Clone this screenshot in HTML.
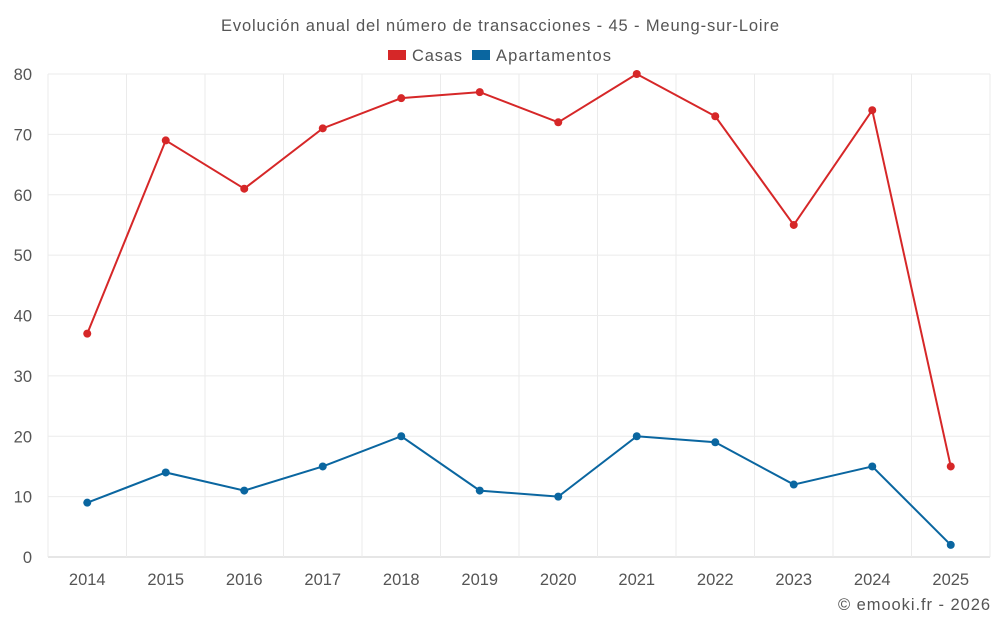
<!DOCTYPE html>
<html><head><meta charset="utf-8"><style>
body{margin:0;background:#fff;font-family:"Liberation Sans",sans-serif;}
svg text{font-family:"Liberation Sans",sans-serif;fill:#555;}
</style></head><body>
<svg id="chart" width="1000" height="625">
<text x="221" y="31" font-size="16.5" textLength="558" lengthAdjust="spacing">Evolución anual del número de transacciones - 45 - Meung-sur-Loire</text>
<g>
<g><rect x="388" y="50" width="18" height="10" fill="#d62728"/><text x="412" y="61" font-size="16.5" textLength="50" lengthAdjust="spacing">Casas</text></g>
<g><rect x="472" y="50" width="18" height="10" fill="#0a66a0"/><text x="496" y="61" font-size="16.5" textLength="115" lengthAdjust="spacing">Apartamentos</text></g>
</g>
<g id="grid"></g>
<g id="axes"></g>
<g id="series"></g>
<text x="838" y="610" font-size="16.5" textLength="152" lengthAdjust="spacing">© emooki.fr - 2026</text>
</svg>
<script>
const categories=["2014","2015","2016","2017","2018","2019","2020","2021","2022","2023","2024","2025"];
const casas=[37,69,61,71,76,77,72,80,73,55,74,15];
const apartamentos=[9,14,11,15,20,11,10,20,19,12,15,2];
const yTicks=[0,10,20,30,40,50,60,70,80];
const NS="http://www.w3.org/2000/svg";
const L=48,R=990,T=74,B=557,yMax=80;
const bw=(R-L)/categories.length;
const x=i=>L+bw*(i+0.5);
const y=v=>B-(v/yMax)*(B-T);
function mk(tag,attrs,parent){const e=document.createElementNS(NS,tag);for(const k in attrs)e.setAttribute(k,attrs[k]);parent.appendChild(e);return e;}
const grid=document.getElementById('grid'),axes=document.getElementById('axes'),series=document.getElementById('series');
yTicks.forEach(t=>{
 const l=mk('line',{x1:L,x2:R,y1:y(t),y2:y(t),stroke:t===0?'#ccc':'#ebebeb','stroke-width':1},grid);
 
 
 const tx=mk('text',{x:L-16,y:y(t)+6,'text-anchor':'end','font-size':16.5},axes);
 tx.textContent=t;
 
 
});
for(let i=0;i<=categories.length;i++){
 const l=mk('line',{x1:L+bw*i,x2:L+bw*i,y1:T,y2:B,stroke:'#ebebeb','stroke-width':1},grid);
 
 
}
categories.forEach((c,i)=>{
 const tx=mk('text',{x:x(i),y:585,'text-anchor':'middle','font-size':16.5},axes);
 tx.textContent=c;
 
 
});
function draw(data,color,name){
 const p=mk('polyline',{points:data.map((v,i)=>x(i)+','+y(v)).join(' '),fill:'none',stroke:color,'stroke-width':2},series);
 
 
 data.forEach((v,i)=>{
  const c=mk('circle',{cx:x(i),cy:y(v),r:4,fill:color},series);
  
  
 });
}
draw(casas,'#d62728','casas');
draw(apartamentos,'#0a66a0','apartamentos');
</script>
</body></html>
